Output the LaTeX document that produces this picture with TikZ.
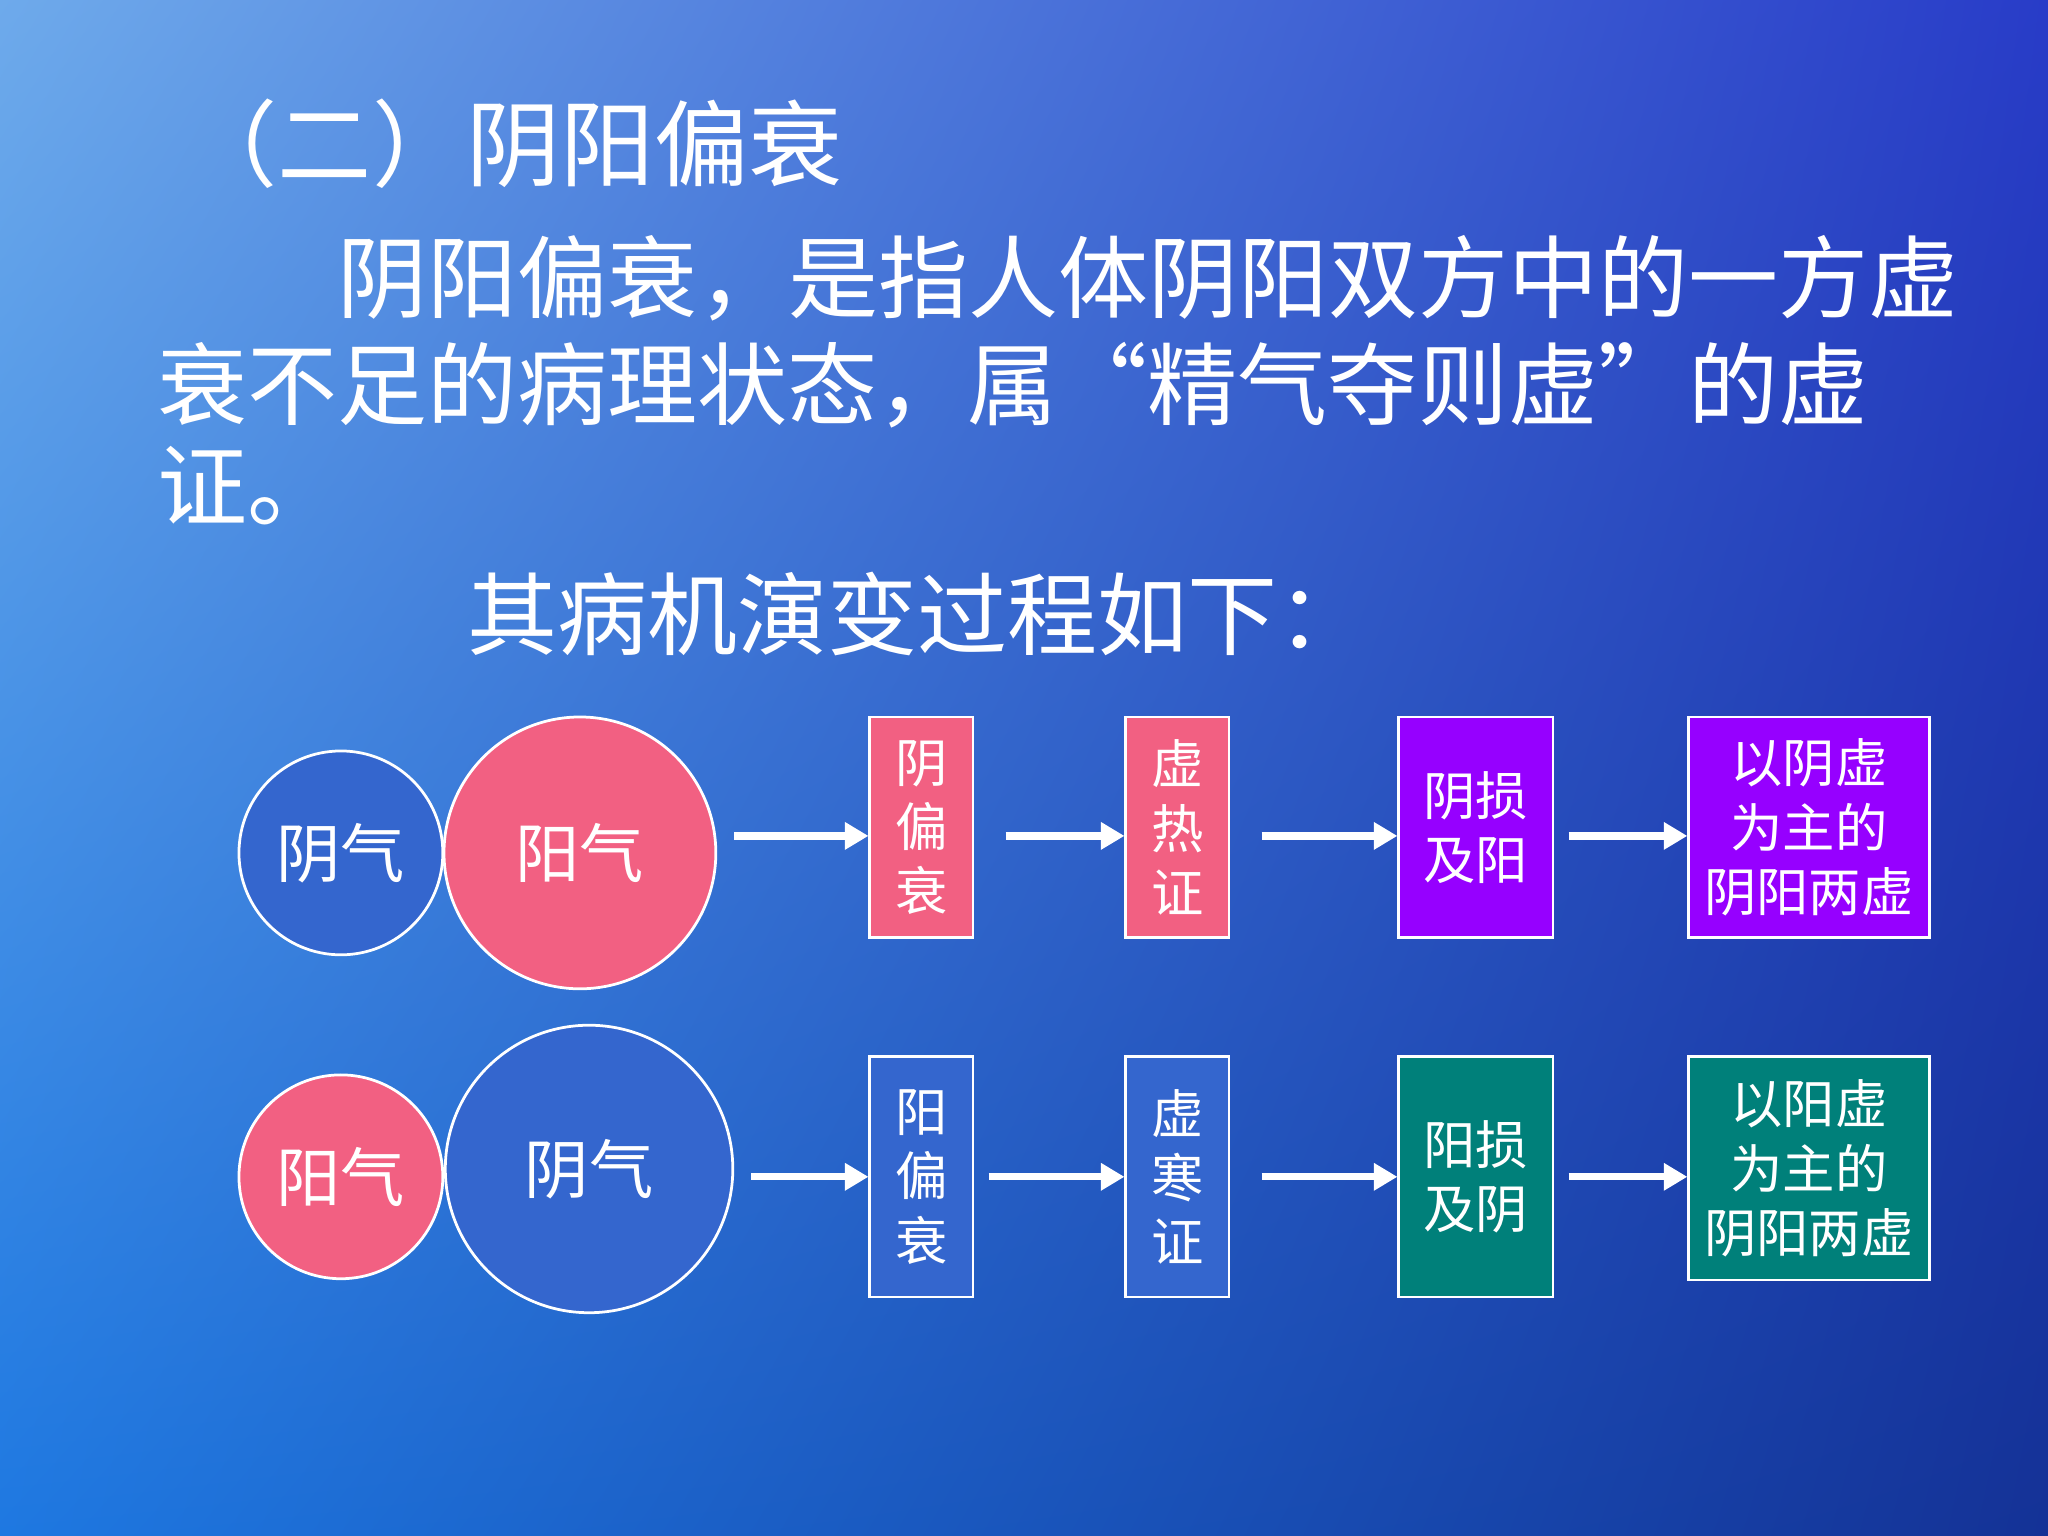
\documentclass[tikz,border=0pt]{standalone}
\usepackage{fontspec}
\setmainfont{Noto Sans CJK SC}
\usetikzlibrary{arrows.meta,shadings}
\definecolor{pinkc}{RGB}{242,96,130}
\definecolor{bluec}{RGB}{52,102,206}
\definecolor{purpc}{RGB}{150,0,255}
\definecolor{tealc}{RGB}{0,128,122}
\definecolor{bgA}{RGB}{110,170,235}
\definecolor{bgB}{RGB}{40,60,200}
\definecolor{bgC}{RGB}{30,120,225}
\definecolor{bgD}{RGB}{20,50,150}
\begin{document}
\begin{tikzpicture}[x=0.01cm,y=-0.01cm,
  circ/.style={circle,draw=white,line width=0.6pt,text=white,font=\fontsize{14}{16}\selectfont,inner sep=0pt},
  bx/.style={draw=white,line width=0.6pt,text=white,font=\fontsize{11.4}{14}\selectfont,inner sep=0pt,align=center},
  arr/.style={white,line width=0.055cm,-{Triangle[length=0.18cm,width=0.2cm]}},
  txt/.style={text=white,anchor=west,inner sep=0pt}]
\shade[upper left=bgA,upper right=bgB,lower left=bgC,lower right=bgD] (0,0) rectangle (1568,1176);
\useasboundingbox (0,0) rectangle (1568,1176);
\node[txt,font=\fontsize{20.5}{24}\selectfont] (t) at (140,110) {（二）阴阳偏衰};
\node[txt,font=\fontsize{19.6}{24}\selectfont] (p1) at (258,213) {阴阳偏衰，是指人体阴阳双方中的一方虚};
\node[txt,font=\fontsize{19.6}{24}\selectfont] (p2) at (120,295) {衰不足的病理状态，属“精气夺则虚”的虚};
\node[txt,font=\fontsize{19.6}{24}\selectfont] (p3) at (120,372) {证。};
\node[txt,font=\fontsize{19.6}{24}\selectfont] (p4) at (357,470) {其病机演变过程如下：};
% row 1
\node[circ,fill=bluec,minimum size=1.56cm] (c1) at (261,653) {阴气};
\node[circ,fill=pinkc,minimum size=2.08cm] (c2) at (444,653) {阳气};
\node[bx,fill=pinkc,minimum width=0.79cm,minimum height=1.69cm] (b1) at (705.5,633.5) {阴\\偏\\衰};
\node[bx,fill=pinkc,minimum width=0.79cm,minimum height=1.69cm] (b2) at (901.5,633.5) {虚\\热\\证};
\node[bx,fill=purpc,minimum width=1.18cm,minimum height=1.69cm] (b3) at (1130,633.5) {阴损\\及阳};
\node[bx,fill=purpc,minimum width=1.84cm,minimum height=1.69cm] (b4) at (1385,633.5) {以阴虚\\为主的\\阴阳两虚};
\coordinate (s1) at (562,640); \coordinate (s2) at (770,640);
\coordinate (s3) at (966,640); \coordinate (s4) at (1201,640);
\draw[arr] (s1) -- (b1.west|-s1);
\draw[arr] (s2) -- (b2.west|-s2);
\draw[arr] (s3) -- (b3.west|-s3);
\draw[arr] (s4) -- (b4.west|-s4);
% row 2
\node[circ,fill=pinkc,minimum size=1.56cm] (d1) at (261,901) {阳气};
\node[circ,fill=bluec,minimum size=2.2cm] (d2) at (451,895) {阴气};
\node[bx,fill=bluec,minimum width=0.79cm,minimum height=1.84cm] (e1) at (705.5,901) {阳\\偏\\衰};
\node[bx,fill=bluec,minimum width=0.79cm,minimum height=1.84cm] (e2) at (901.5,901) {虚\\寒\\证};
\node[bx,fill=tealc,minimum width=1.18cm,minimum height=1.84cm] (e3) at (1130,901) {阳损\\及阴};
\node[bx,fill=tealc,minimum width=1.84cm,minimum height=1.71cm] (e4) at (1385,894.5) {以阳虚\\为主的\\阴阳两虚};
\coordinate (r1) at (575,901); \coordinate (r2) at (757,901);
\coordinate (r3) at (966,901); \coordinate (r4) at (1201,901);
\draw[arr] (r1) -- (e1.west|-r1);
\draw[arr] (r2) -- (e2.west|-r2);
\draw[arr] (r3) -- (e3.west|-r3);
\draw[arr] (r4) -- (e4.west|-r4);
\end{tikzpicture}
\end{document}
